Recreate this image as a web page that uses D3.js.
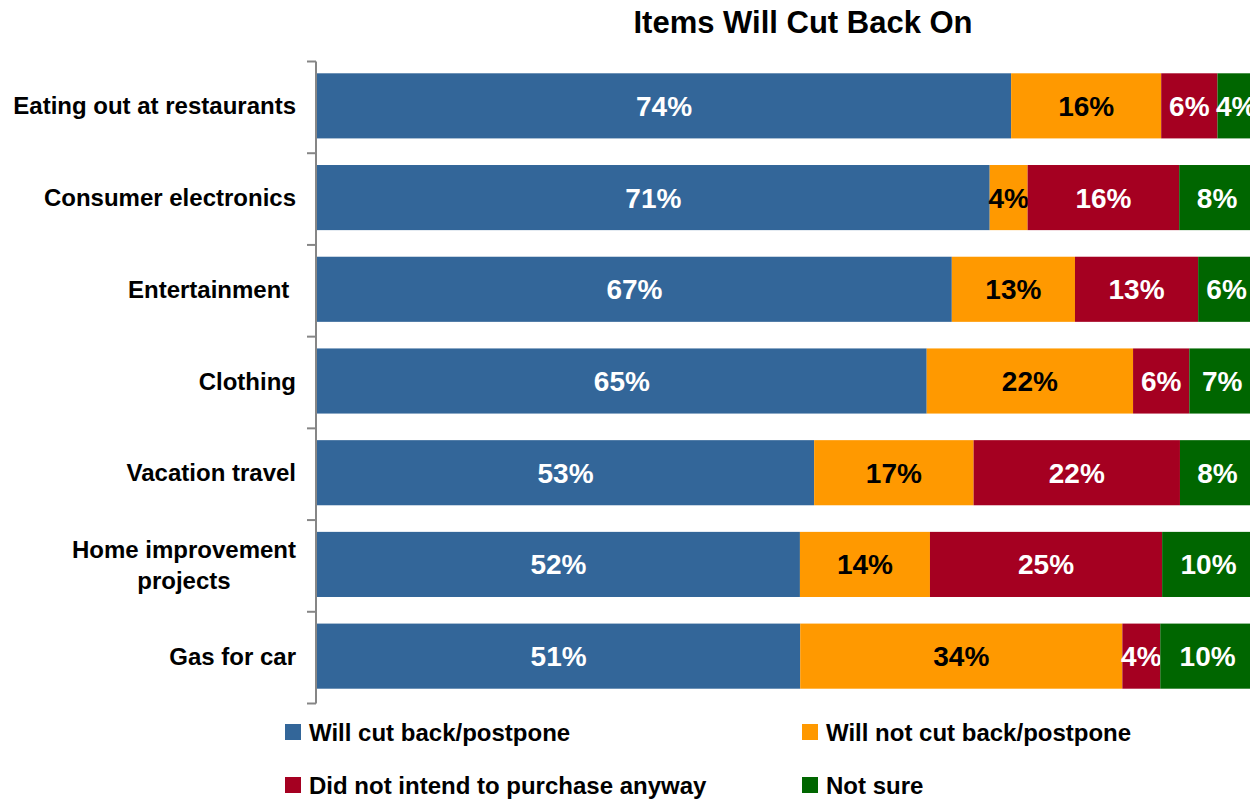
<!DOCTYPE html>
<html>
<head>
<meta charset="utf-8">
<script src="https://cdn.jsdelivr.net/npm/d3@7"></script>
<style>
    body { margin: 0; background: #fff; overflow: hidden; }
    text { font-family: Arial, "Liberation Sans", sans-serif; font-weight: bold; }
</style>
</head>
<body>
<div id="chart"></div>
<script>
var categories = ["Eating out at restaurants", "Consumer electronics", "Entertainment ",
    "Clothing", "Vacation travel", "Home improvement\nprojects", "Gas for car"];
var seriesNames = ["Will cut back/postpone", "Will not cut back/postpone",
    "Did not intend to purchase anyway", "Not sure"];
var cutBack = [74, 71, 67, 65, 53, 52, 51];
var notCut = [16, 4, 13, 22, 17, 14, 34];
var noIntent = [6, 16, 13, 6, 22, 25, 4];
var notSure = [4, 8, 6, 7, 8, 10, 10];
var colors = ["#336699", "#FF9900", "#A50021", "#006600"];
var labelColors = ["#fff", "#000", "#fff", "#fff"];

var W = 1250, H = 799;
var svg = d3.select("#chart").append("svg")
    .attr("width", W)
    .attr("height", H);

// build normalized rows (100% stacked)
var rows = categories.map(function(c, i) {
    return { cat: c, v: [cutBack[i], notCut[i], noIntent[i], notSure[i]] };
});

// plot area runs a bit past the right edge of the picture
var x = d3.scaleLinear().domain([0, 1]).range([317, 1255]);
var y = d3.scaleBand().domain(categories).range([60, 702])
    .paddingInner(0.29).paddingOuter(0.145);

svg.append("text")
    .attr("x", 803)
    .attr("y", 33)
    .attr("text-anchor", "middle")
    .style("font-size", "31px")
    .text("Items Will Cut Back On");

var rowG = svg.selectAll(".row").data(rows).enter().append("g")
    .attr("class", "row")
    .attr("transform", function(d) { return "translate(0," + y(d.cat) + ")"; });

rowG.each(function(d) {
    var total = d3.sum(d.v);
    var acc = 0;
    var g = d3.select(this);
    d.v.forEach(function(v, k) {
        var x0 = x(acc / total), x1 = x((acc + v) / total);
        acc += v;
        g.append("rect")
            .attr("x", x0)
            .attr("y", 0)
            .attr("width", x1 - x0)
            .attr("height", y.bandwidth())
            .attr("fill", colors[k]);
        g.append("text")
            .attr("x", (x0 + x1) / 2)
            .attr("y", y.bandwidth() / 2)
            .attr("dy", "0.36em")
            .attr("text-anchor", "middle")
            .style("font-size", "28px")
            .attr("fill", labelColors[k])
            .text(v + "%");
    });
});

// left axis with ticks between categories
var step = y.step();
var axisTop = 61.5, axisBottom = 703.5;
svg.append("line")
    .attr("x1", 316).attr("x2", 316)
    .attr("y1", axisTop).attr("y2", axisBottom)
    .attr("stroke", "#868686").attr("stroke-width", 2);
d3.range(categories.length + 1).forEach(function(i) {
    var ty = axisTop + i * step;
    svg.append("line")
        .attr("x1", 307).attr("x2", 316)
        .attr("y1", ty).attr("y2", ty)
        .attr("stroke", "#868686").attr("stroke-width", 2);
});

// category labels (wrapped ones centered within a right-aligned block)
categories.forEach(function(c) {
    var lines = c.split("\n");
    var cy = y(c) + y.bandwidth() / 2;
    var lh = 31;
    var g = svg.append("g");
    var texts = lines.map(function(l, j) {
        return g.append("text")
            .attr("y", cy + (j - (lines.length - 1) / 2) * lh)
            .attr("dy", "0.36em")
            .style("font-size", "24px")
            .style("white-space", "pre")
            .text(l);
    });
    var maxW = d3.max(texts, function(t) { return t.node().getComputedTextLength(); });
    var right = 296;
    texts.forEach(function(t) {
        if (lines.length > 1) {
            t.attr("x", right - maxW / 2).attr("text-anchor", "middle");
        } else {
            t.attr("x", right).attr("text-anchor", "end");
        }
    });
});

// legend
var legendPos = [[285, 732], [802, 732], [285, 785], [802, 785]];
seriesNames.forEach(function(s, k) {
    var p = legendPos[k];
    svg.append("rect")
        .attr("x", p[0]).attr("y", p[1] - 8)
        .attr("width", 16).attr("height", 16)
        .attr("fill", colors[k]);
    svg.append("text")
        .attr("x", p[0] + 24)
        .attr("y", p[1])
        .attr("dy", "0.36em")
        .style("font-size", "24px")
        .text(s);
});
</script>
</body>
</html>
